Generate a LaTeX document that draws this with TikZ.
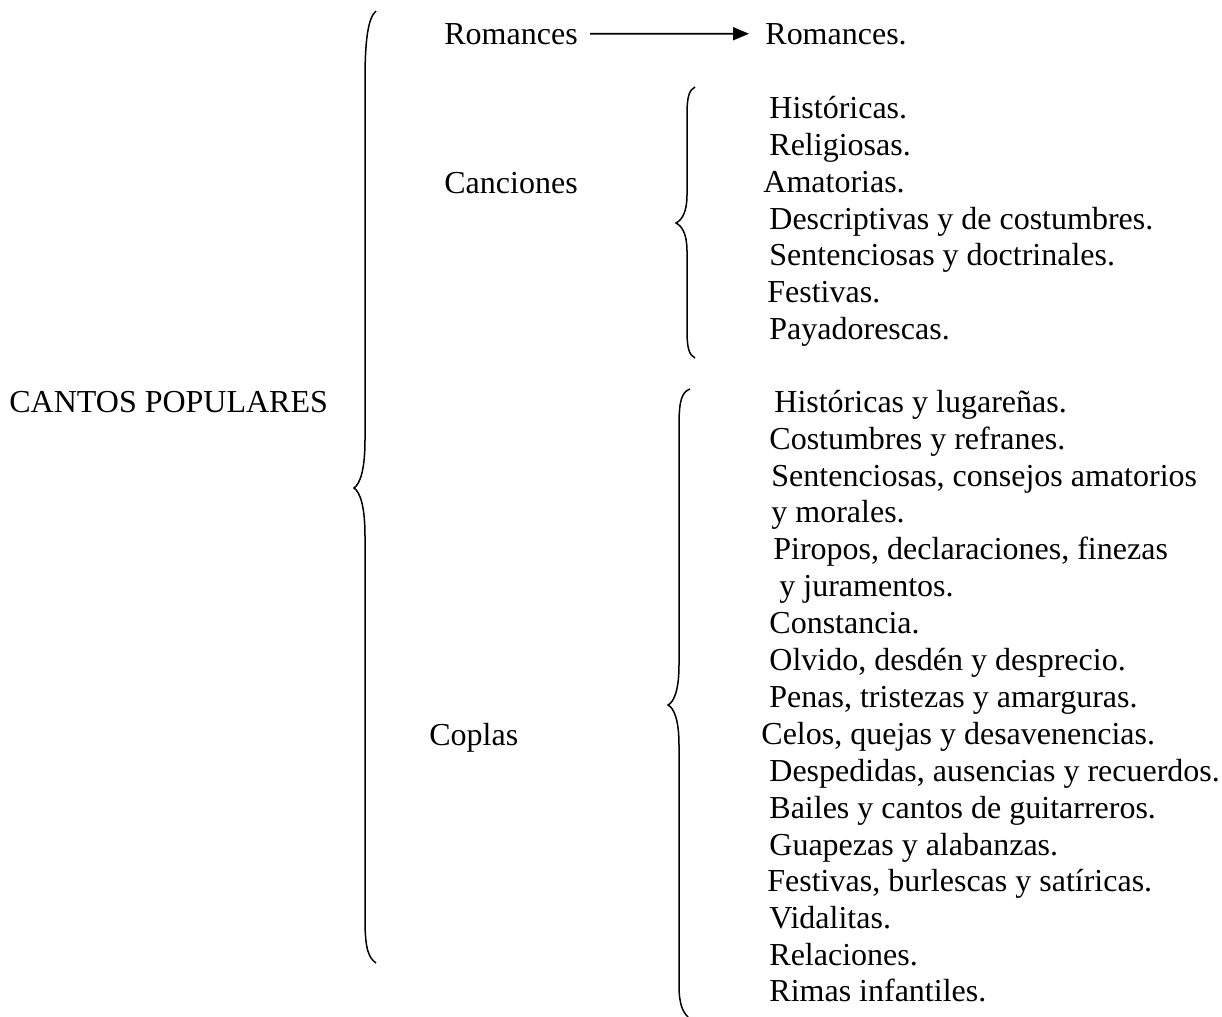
\documentclass[tikz,border=0pt]{standalone}
\usepackage{fontspec}
\setmainfont{Liberation Serif}
\usepackage{tikz}
\usetikzlibrary{arrows.meta}

\begin{document}
\begin{tikzpicture}[x=0.5pt,y=-0.5pt,
    txt/.style={anchor=base west,inner sep=0pt,font=\fontsize{16pt}{18.4pt}\selectfont},
    llave/.style={line width=0.75pt}]
        \useasboundingbox (0,0) rectangle (1222,1017);

        % título
        \node[txt] (cantos) at (9,412) {CANTOS POPULARES};

        % llave grande
        \draw[llave] (376,11) .. controls (368,18) and (365,40) .. (365,80) -- (365,440)
            .. controls (365,470) and (360,484) .. (354,488)
            .. controls (360,492) and (365,506) .. (365,536) -- (365,920)
            .. controls (365,950) and (369,958) .. (376,963);

        % romances
        \node[txt] (rom) at (444,44) {Romances};
        \node[txt] (romfin) at (765,44) {Romances.};
        \draw[line width=0.9pt,-{Triangle[length=8pt,width=6.5pt]},shorten <=6pt,shorten >=8pt] (rom.east) -- (romfin.west);

        % canciones
        \node[txt] (canc) at (444,193) {Canciones};
        \draw[llave] (695,87) .. controls (689,90) and (687,97) .. (687,115) -- (687,195)
            .. controls (687,212) and (682,220) .. (676,223)
            .. controls (682,226) and (687,234) .. (687,251) -- (687,330)
            .. controls (687,348) and (689,355) .. (695,358);
        \node[txt] (canc1) at (769,118) {Históricas.};
        \node[txt] (canc2) at (769,155) {Religiosas.};
        \node[txt] (canc3) at (763,192) {Amatorias.};
        \node[txt] (canc4) at (769,229) {Descriptivas y de costumbres.};
        \node[txt] (canc5) at (769,265) {Sentenciosas y doctrinales.};
        \node[txt] (canc6) at (767,302) {Festivas.};
        \node[txt] (canc7) at (769,339) {Payadorescas.};

        % coplas
        \node[txt] (copl) at (429,745) {Coplas};
        \draw[llave] (690,389) .. controls (682,392) and (679,400) .. (679,425) -- (679,665)
            .. controls (679,690) and (674,702) .. (668,705)
            .. controls (674,708) and (679,720) .. (679,745) -- (679,985)
            .. controls (679,1005) and (683,1012) .. (688,1017);
        \node[txt] (copl1) at (774,412) {Históricas y lugareñas.};
        \node[txt] (copl2) at (769,449) {Costumbres y refranes.};
        \node[txt] (copl3) at (771,486) {Sentenciosas, consejos amatorios};
        \node[txt] (copl4) at (771,522) {y morales.};
        \node[txt] (copl5) at (773,559) {Piropos, declaraciones, finezas};
        \node[txt] (copl6) at (779,596) {y juramentos.};
        \node[txt] (copl7) at (769,633) {Constancia.};
        \node[txt] (copl8) at (769,670) {Olvido, desdén y desprecio.};
        \node[txt] (copl9) at (769,707) {Penas, tristezas y amarguras.};
        \node[txt] (copl10) at (761,744) {Celos, quejas y desavenencias.};
        \node[txt] (copl11) at (769,781) {Despedidas, ausencias y recuerdos.};
        \node[txt] (copl12) at (769,818) {Bailes y cantos de guitarreros.};
        \node[txt] (copl13) at (769,855) {Guapezas y alabanzas.};
        \node[txt] (copl14) at (767,891) {Festivas, burlescas y satíricas.};
        \node[txt] (copl15) at (769,928) {Vidalitas.};
        \node[txt] (copl16) at (769,965) {Relaciones.};
        \node[txt] (copl17) at (769,1001) {Rimas infantiles.};
    \end{tikzpicture}
\end{document}
